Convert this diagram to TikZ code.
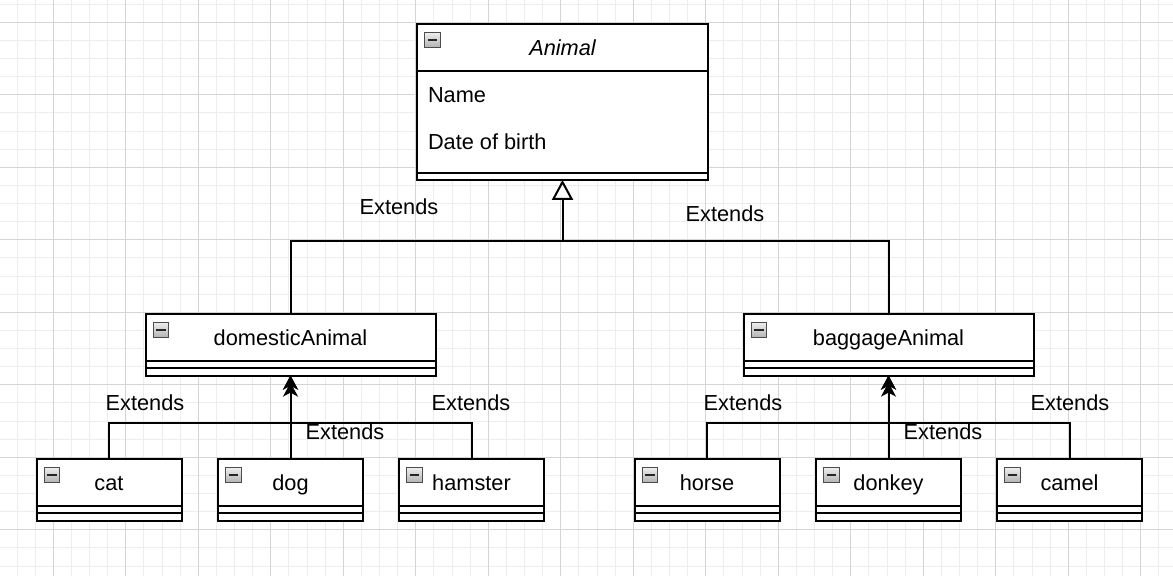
\documentclass[tikz,border=0pt]{standalone}
\usepackage{fontspec}
\setmainfont{Liberation Sans}
\usetikzlibrary{arrows.meta,calc}
\newcommand{\fsz}{\fontsize{21.75pt}{26pt}\selectfont}
\definecolor{minorgrid}{HTML}{EDEDED}
\definecolor{majorgrid}{HTML}{D4D4D4}
\tikzset{
  box/.style={draw=black, line width=2pt, fill=white, inner sep=0pt, outer sep=0pt},
  sepline/.style={line width=2pt},
  edge/.style={line width=2pt, line join=miter},
  txt/.style={font=\fsz, inner sep=0pt, outer sep=0pt, text height=15.6pt, text depth=0pt},
  icon/.style={draw=gray!60!black, line width=1pt, top color=gray!12, bottom color=gray!60},
  clsarrow/.style={-{Stealth[length=14pt,width=15pt,inset=4pt]}},
  genarrow/.style={-{Triangle[length=20pt,width=21pt,fill=white]}}
}
% #1 name, #2 centre x, #3 top y, #4 width, #5 height, #6 title
\newcommand{\umlbox}[6]{%
  \node[box, minimum width=#4pt, minimum height=#5pt, anchor=north] (#1) at (#2,#3) {};
  \draw[sepline] ($(#1.north west)+(0,47.1)$) -- ($(#1.north east)+(0,47.1)$);
  \draw[sepline] ($(#1.south west)+(0,-7.25)$) -- ($(#1.south east)+(0,-7.25)$);
  \draw[icon] ($(#1.north west)+(7.5,8)$) rectangle ($(#1.north west)+(23,23.5)$);
  \draw[line width=2pt, black!85] ($(#1.north west)+(10.5,15.75)$) -- ($(#1.north west)+(20,15.75)$);
  \node[txt] (#1-t) at ($(#1.north)+(0,23.6)$) {#6};
}
\begin{document}
\begin{tikzpicture}[x=1pt,y=-1pt]
\useasboundingbox (0,0) rectangle (1173,576);
\fill[white] (0,0) rectangle (1173,576);
% grid
\foreach \k in {-2,...,61}{
  \pgfmathsetmacro{\xx}{53.3+18.125*\k}
  \draw[minorgrid, line width=1pt] (\xx,0) -- (\xx,576);
}
\foreach \k in {-1,...,30}{
  \pgfmathsetmacro{\yy}{22.3+18.125*\k}
  \draw[minorgrid, line width=1pt] (0,\yy) -- (1173,\yy);
}
\foreach \k in {0,...,15}{
  \pgfmathsetmacro{\xx}{53.3+72.5*\k}
  \draw[majorgrid, line width=1pt] (\xx,0) -- (\xx,576);
}
\foreach \k in {0,...,7}{
  \pgfmathsetmacro{\yy}{22.3+72.5*\k}
  \draw[majorgrid, line width=1pt] (0,\yy) -- (1173,\yy);
}
% classes
\umlbox{animal}{562.5}{24}{290.4}{155.9}{\itshape Animal}
\node[txt, anchor=west] (name) at (428,94.7) {Name};
\node[txt, anchor=west] (dob) at (428,141.8) {Date of birth};
\umlbox{dom}{290.5}{314}{290}{61.6}{domesticAnimal}
\umlbox{bag}{888.5}{314}{290}{61.6}{baggageAnimal}
\umlbox{cat}{109}{459}{145}{61.6}{cat}
\umlbox{dog}{290.5}{459}{145}{61.6}{dog}
\umlbox{hamster}{471.5}{459}{145}{61.6}{hamster}
\umlbox{horse}{707}{459}{145}{61.6}{horse}
\umlbox{donkey}{888.5}{459}{145}{61.6}{donkey}
\umlbox{camel}{1069.5}{459}{145}{61.6}{camel}
% hubs
\coordinate (hubA) at (562.5,241);
\coordinate (hubD) at (290.5,422.7);
\coordinate (hubB) at (888.5,422.7);
% generalisation to Animal
\draw[edge, genarrow] (dom.north) |- (hubA) -- (animal.south);
\draw[edge] (bag.north) |- (hubA);
% domestic
\draw[edge, clsarrow] (cat.north) |- (hubD) -- (dom.south);
\draw[edge, clsarrow] (hamster.north) |- (hubD) -- (dom.south);
\draw[edge, clsarrow, shorten >=7pt] (dog.north) -- (dom.south);
% baggage
\draw[edge, clsarrow] (horse.north) |- (hubB) -- (bag.south);
\draw[edge, clsarrow] (camel.north) |- (hubB) -- (bag.south);
\draw[edge, clsarrow, shorten >=7pt] (donkey.north) -- (bag.south);
% labels
\node[txt] (l1) at (399,207) {Extends};
\node[txt] (l2) at (725,214) {Extends};
\node[txt] (l3) at (145,403) {Extends};
\node[txt] (l4) at (345,432) {Extends};
\node[txt] (l5) at (471,403) {Extends};
\node[txt] (l6) at (743,403) {Extends};
\node[txt] (l7) at (943,432) {Extends};
\node[txt] (l8) at (1070,403) {Extends};
\end{tikzpicture}
\end{document}
